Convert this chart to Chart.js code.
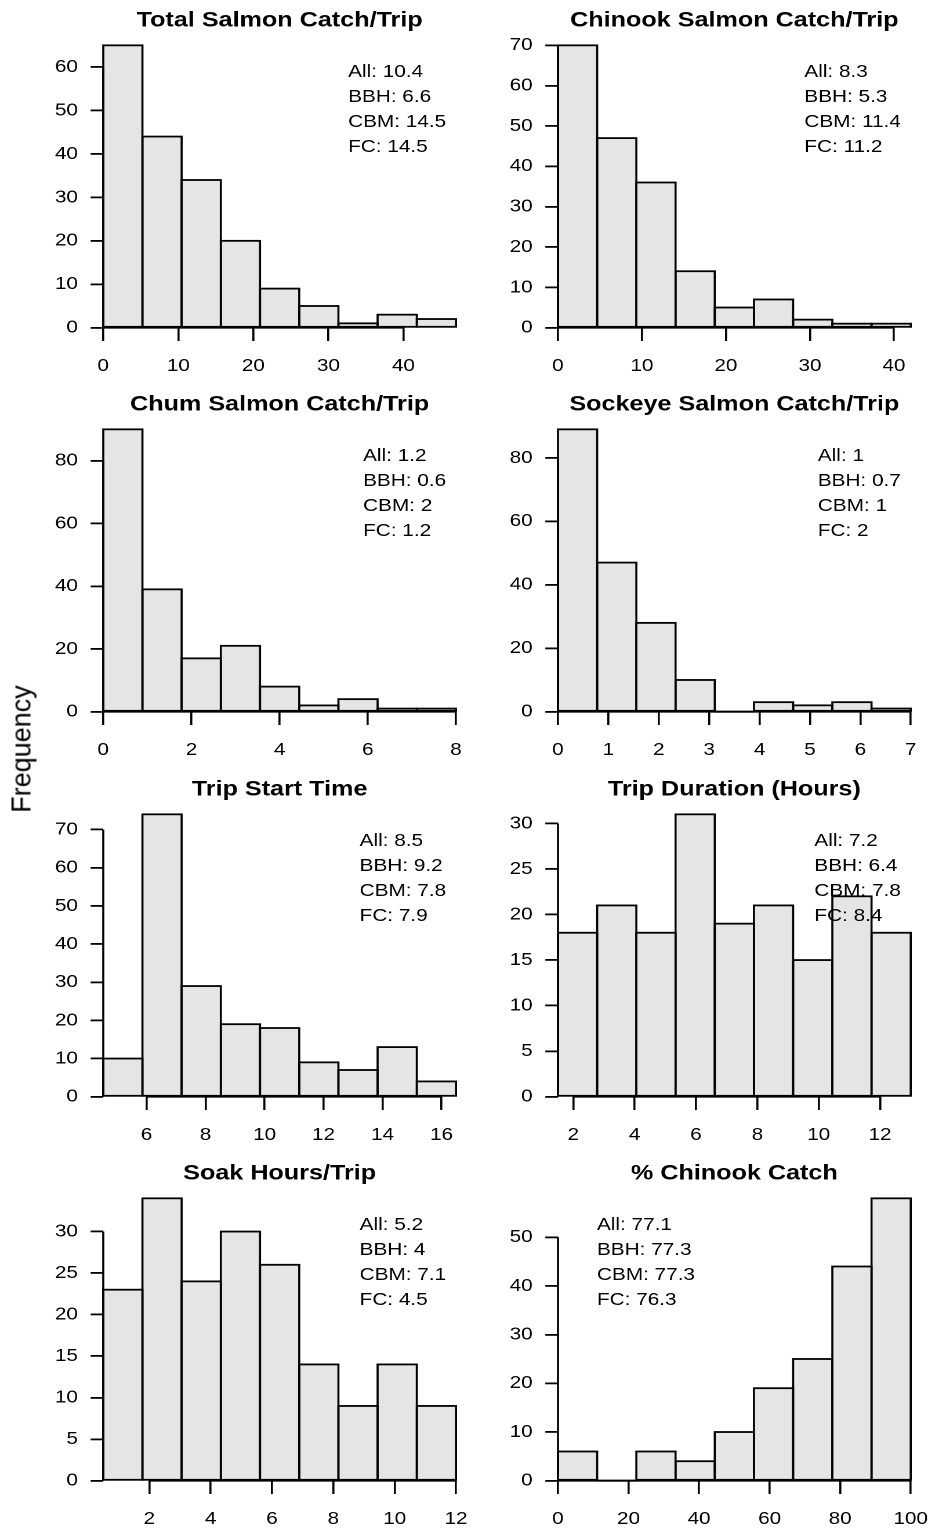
<!DOCTYPE html>
<html>
<head>
<meta charset="utf-8">
<title>Salmon catch histograms</title>
<script src="https://cdn.jsdelivr.net/npm/chart.js@4.4.1/dist/chart.umd.min.js"></script>
<style>
  html, body { margin: 0; padding: 0; background: #fff; overflow: hidden; }
  body { width: 931px; height: 1531px; position: relative; }
  /* the reference is drawn horizontally stretched, so lay out narrower and stretch */
  #fig { position: absolute; left: 0; top: 0; width: 802.6px; height: 1531px;
         transform: scaleX(1.16); transform-origin: 0 0; }
  #fig canvas { position: absolute; }
  #ylab { position: absolute; left: 21.7px; top: 749px;
          transform: translate(-50%, -50%) rotate(-90deg);
          font: 27px 'Liberation Sans', Arial, sans-serif; line-height: 1;
          white-space: nowrap; color: #000; }
</style>
</head>
<body>
<div id="fig"></div>
<div id="ylab">Frequency</div>
<script>
const titles = [
  'Total Salmon Catch/Trip', 'Chinook Salmon Catch/Trip',
  'Chum Salmon Catch/Trip', 'Sockeye Salmon Catch/Trip',
  'Trip Start Time', 'Trip Duration (Hours)',
  'Soak Hours/Trip', '% Chinook Catch'
];

// trips per bin, 9 equal bins per panel
const totalCatch   = [65, 44, 34, 20, 9, 5, 1, 3, 2];
const chinookCatch = [70, 47, 36, 14, 5, 7, 2, 1, 1];
const chumCatch    = [90, 39, 17, 21, 8, 2, 4, 1, 1];
const sockeyeCatch = [89, 47, 28, 10, 0, 3, 2, 3, 1];
const startTime    = [10, 74, 29, 19, 18, 9, 7, 13, 4];
const tripDuration = [18, 21, 18, 31, 19, 21, 15, 22, 18];
const soakHours    = [23, 34, 24, 30, 26, 14, 9, 14, 9];
const pctChinook   = [6, 0, 6, 4, 10, 19, 25, 44, 58];

const panelCounts = [totalCatch, chinookCatch, chumCatch, sockeyeCatch,
                     startTime, tripDuration, soakHours, pctChinook];

// value range covered by the bins
const binRanges = [[0, 47], [0, 42], [0, 8], [0, 7],
                   [4.53, 16.49], [1.5, 13], [0.5, 12], [0, 100]];

const xTicks = [
  [0, 10, 20, 30, 40], [0, 10, 20, 30, 40],
  [0, 2, 4, 6, 8], [0, 1, 2, 3, 4, 5, 6, 7],
  [6, 8, 10, 12, 14, 16], [2, 4, 6, 8, 10, 12],
  [2, 4, 6, 8, 10, 12], [0, 20, 40, 60, 80, 100]
];
const yTicks = [
  [0, 10, 20, 30, 40, 50, 60], [0, 10, 20, 30, 40, 50, 60, 70],
  [0, 20, 40, 60, 80], [0, 20, 40, 60, 80],
  [0, 10, 20, 30, 40, 50, 60, 70], [0, 5, 10, 15, 20, 25, 30],
  [0, 5, 10, 15, 20, 25, 30], [0, 10, 20, 30, 40, 50]
];

const groupLabels = ['All', 'BBH', 'CBM', 'FC'];
const groupMeans = [
  [10.4, 6.6, 14.5, 14.5], [8.3, 5.3, 11.4, 11.2],
  [1.2, 0.6, 2, 1.2], [1, 0.7, 1, 2],
  [8.5, 9.2, 7.8, 7.9], [7.2, 6.4, 7.8, 8.4],
  [5.2, 4, 7.1, 4.5], [77.1, 77.3, 77.3, 76.3]
];

const FONT = "'Liberation Sans', Arial, sans-serif";
const LW = 1.8;

// R-style axis lines that only run between the first and last tick
const axisLines = {
  id: 'axisLines',
  afterDraw(chart) {
    const { ctx, chartArea, scales: { x, y } } = chart;
    const xt = x.ticks, yt = y.ticks;
    ctx.save();
    ctx.strokeStyle = '#000';
    ctx.lineWidth = LW;
    ctx.beginPath();
    ctx.moveTo(x.getPixelForValue(xt[0].value), chartArea.bottom);
    ctx.lineTo(x.getPixelForValue(xt[xt.length - 1].value), chartArea.bottom);
    ctx.moveTo(chartArea.left, y.getPixelForValue(yt[0].value));
    ctx.lineTo(chartArea.left, y.getPixelForValue(yt[yt.length - 1].value));
    ctx.stroke();
    ctx.restore();
  }
};

// outline each bar once so shared edges are not doubled
const barOutlines = {
  id: 'barOutlines',
  afterDatasetsDraw(chart) {
    const ctx = chart.ctx;
    ctx.save();
    ctx.strokeStyle = '#000';
    ctx.lineWidth = LW;
    chart.getDatasetMeta(0).data.forEach(bar => {
      const { x, y, base, width } = bar.getProps(['x', 'y', 'base', 'width'], true);
      ctx.strokeRect(x - width / 2, y, width, base - y);
    });
    ctx.restore();
  }
};

function statsPlugin(lines, corner) {
  return {
    id: 'stats',
    afterDraw(chart) {
      const { ctx, chartArea } = chart;
      ctx.save();
      ctx.font = `17.9px ${FONT}`;
      ctx.fillStyle = '#000';
      ctx.textAlign = 'left';
      ctx.textBaseline = 'middle';
      const w = Math.max(...lines.map(s => ctx.measureText(s).width));
      const left = corner === 'left' ? chartArea.left + 33.6 : chartArea.right - 8.5 - w;
      lines.forEach((s, i) => ctx.fillText(s, left, chartArea.top + 26.5 + i * 25));
      ctx.restore();
    }
  };
}

function drawHistogram(canvas, p) {
  const counts = panelCounts[p];
  const [lo, hi] = binRanges[p];
  const binW = (hi - lo) / counts.length;
  const points = counts.map((c, i) => ({ x: lo + binW * (i + 0.5), y: c }));
  const lines = groupLabels.map((g, i) => `${g}: ${groupMeans[p][i]}`);
  const tickFont = { family: FONT, size: 17.8 };

  return new Chart(canvas, {
    type: 'bar',
    data: {
      datasets: [{
        data: points,
        backgroundColor: '#e5e5e5',
        borderWidth: 0,
        barPercentage: 1,
        categoryPercentage: 1
      }]
    },
    options: {
      responsive: false,
      animation: false,
      devicePixelRatio: 2,
      events: [],
      layout: { padding: { left: 0, right: 17.9, top: 0, bottom: 0 } },
      plugins: {
        legend: { display: false },
        tooltip: { enabled: false },
        title: {
          display: true,
          text: titles[p],
          fullSize: false,
          color: '#000',
          font: { family: FONT, size: 21.7, weight: 'bold', lineHeight: 1.2 },
          padding: { top: 7.7, bottom: 11.6 }
        }
      },
      scales: {
        x: {
          type: 'linear',
          min: lo,
          max: hi,
          offset: false,
          afterBuildTicks: s => { s.ticks = xTicks[p].map(v => ({ value: v })); },
          afterFit: s => { s.height = 56.3; s.paddingLeft = 0; s.paddingRight = 0; },
          border: { display: false },
          grid: { offset: false, drawOnChartArea: false, tickLength: 13.3, color: '#000', lineWidth: LW },
          ticks: { color: '#000', font: tickFont, padding: 14.6, maxRotation: 0, autoSkip: false }
        },
        y: {
          type: 'linear',
          min: 0,
          max: Math.max(...counts),
          afterBuildTicks: s => { s.ticks = yTicks[p].map(v => ({ value: v })); },
          afterFit: s => { s.width = 70; s.paddingTop = 0; s.paddingBottom = 0; },
          border: { display: false },
          grid: { drawOnChartArea: false, tickLength: 10.9, color: '#000', lineWidth: LW },
          ticks: { color: '#000', font: tickFont, padding: 11, autoSkip: false }
        }
      }
    },
    plugins: [barOutlines, axisLines, statsPlugin(lines, p === 7 ? 'left' : 'right')]
  });
}

const fig = document.getElementById('fig');
panelCounts.forEach((_, p) => {
  const c = document.createElement('canvas');
  c.width = 392;
  c.height = 384;
  c.style.left = (p % 2 ? 410.7 : 19.05) + 'px';
  c.style.top = (Math.floor(p / 2) * 384.3) + 'px';
  fig.appendChild(c);
  drawHistogram(c, p);
});
</script>
</body>
</html>
